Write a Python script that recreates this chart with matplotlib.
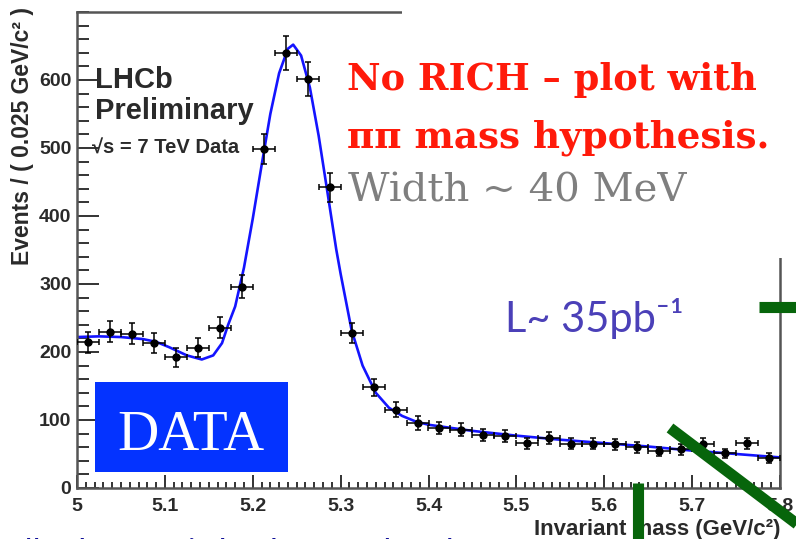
import matplotlib
matplotlib.use("Agg")
import matplotlib.pyplot as plt
from matplotlib.patches import Rectangle
from matplotlib.lines import Line2D

# binned data, bin width 0.025 GeV/c^2
mass = [5.0125, 5.0375, 5.0625, 5.0875, 5.1125, 5.1375, 5.1625, 5.1875,
        5.2125, 5.2375, 5.2625, 5.2875, 5.3125, 5.3375, 5.3625, 5.3875,
        5.4125, 5.4375, 5.4625, 5.4875, 5.5125, 5.5375, 5.5625, 5.5875,
        5.6125, 5.6375, 5.6625, 5.6875, 5.7125, 5.7375, 5.7625, 5.7875]
events = [214, 230, 227, 213, 192, 206, 236, 296,
          499, 640, 602, 442, 228, 148, 115, 96,
          88, 86, 78, 76, 66, 74, 65, 65,
          64, 60, 54, 57, 65, 51, 66, 44]
events_err = [15, 15, 15, 15, 14, 14, 15, 17,
              22, 25, 25, 21, 15, 12, 11, 10,
              9, 9, 9, 9, 8, 9, 8, 8,
              8, 8, 7, 8, 8, 7, 8, 7]
half_bin = 0.0125

# fitted curve
fit_mass = [5.000, 5.025, 5.050, 5.075, 5.090, 5.105, 5.125, 5.142, 5.155,
            5.165, 5.172, 5.180, 5.190, 5.200, 5.210, 5.220, 5.230, 5.240,
            5.246, 5.255, 5.265, 5.275, 5.285, 5.295, 5.300, 5.3125, 5.325,
            5.340, 5.355, 5.370, 5.385, 5.400, 5.450, 5.500, 5.550, 5.600,
            5.650, 5.700, 5.750, 5.800]
fit_events = [222, 223, 222, 219, 215, 207, 195, 189, 195,
              213, 240, 267, 324, 396, 474, 550, 610, 646,
              652, 636, 589, 518, 435, 351, 315, 232, 180,
              140, 118, 106, 98, 93, 84, 77, 71, 66,
              61, 55, 50, 45]

W, H = 796, 539
fig = plt.figure(figsize=(W / 100, H / 100), dpi=100)
ax = fig.add_axes([77 / W, 1 - 488 / H, (780 - 77) / W, (488 - 12) / H])

ax.plot(fit_mass, fit_events, color="#1414ff", lw=1.9, zorder=2)
ax.errorbar(mass, events, yerr=events_err, xerr=half_bin, fmt="o",
            color="black", ms=5, elinewidth=1.1, capsize=2, capthick=1.1,
            zorder=3)

ax.set_xlim(5.0, 5.8)
ax.set_ylim(0, 700)
ax.set_xticks([5.0, 5.1, 5.2, 5.3, 5.4, 5.5, 5.6, 5.7, 5.8])
ax.set_xticklabels(["5", "5.1", "5.2", "5.3", "5.4", "5.5", "5.6", "5.7", "5.8"])
ax.set_xticks([5.0 + 0.01 * i for i in range(81)], minor=True)
ax.set_yticks([0, 100, 200, 300, 400, 500, 600])
ax.set_yticks(list(range(0, 701, 20)), minor=True)

ax.tick_params(axis="both", which="both", direction="in", colors="#333333",
               width=1.4, top=False, right=False)
ax.tick_params(axis="y", which="major", length=16, pad=4)
ax.tick_params(axis="y", which="minor", length=8.5)
ax.tick_params(axis="x", which="major", length=9.5, pad=7)
ax.tick_params(axis="x", which="minor", length=4.5)
for lab in ax.get_xticklabels() + ax.get_yticklabels():
    lab.set_fontfamily("Liberation Sans")
    lab.set_fontweight("bold")
    lab.set_fontsize(14)
    lab.set_color("#2a2a2a")
for side in ["left", "bottom", "top", "right"]:
    ax.spines[side].set_color("#555555")
    ax.spines[side].set_linewidth(1.8)

def px(x, y):
    return x / W, 1 - y / H

# axis titles, ROOT style at the end of the axes
fig.text(*px(780, 535), "Invariant mass (GeV/c²)", ha="right", va="baseline",
         fontsize=16, fontweight="bold", family="Liberation Sans", color="#2a2a2a")
fig.text(*px(23, 7), "Events / ( 0.025 GeV/c² )", ha="center", va="top",
         rotation=90, fontsize=16.5, fontweight="bold", family="Liberation Sans",
         color="#2a2a2a")

# LHCb label
fig.text(*px(95, 88), "LHCb", fontsize=21, fontweight="bold",
         family="Liberation Sans", color="#2a2a2a")
fig.text(*px(95, 119), "Preliminary", fontsize=21, fontweight="bold",
         family="Liberation Sans", color="#2a2a2a")
fig.text(*px(92, 154), "√s = 7 TeV Data", fontsize=14.5, fontweight="bold",
         family=["Liberation Sans", "DejaVu Sans"], color="#2a2a2a")

# white overlay box from the slide
fig.add_artist(Rectangle(px(402, 258), (W - 402) / W, 258 / H,
                         transform=fig.transFigure, facecolor="white",
                         edgecolor="none", zorder=5))

fig.text(*px(347, 90), "No RICH – plot with", fontsize=26.5, fontweight="bold",
         family="DejaVu Serif", color="#ff1a0a", zorder=6)
fig.text(*px(347, 147), "ππ mass hypothesis.", fontsize=26.8, fontweight="bold",
         family="DejaVu Serif", color="#ff1a0a", zorder=6)
fig.text(*px(348, 202), "Width ~ 40 MeV", fontsize=29, family="DejaVu Serif",
         color="#7f7f7f", zorder=6)

fig.text(*px(505, 332), "L~ 35pb⁻¹", fontsize=30, family=["Lato", "DejaVu Sans"],
         color="#4b40b8", zorder=6)

# DATA box
fig.add_artist(Rectangle(px(95, 472), (288 - 95) / W, (472 - 382) / H,
                         transform=fig.transFigure, facecolor="#0433ff",
                         edgecolor="none", zorder=6))
fig.text(*px(191, 450), "DATA", ha="center", va="baseline", fontsize=41,
         family="Liberation Serif", color="white", zorder=7)

# green slide decorations
green = "#07650b"
for xs, ys in [((637.5, 637.5), (483, 545)),
               ((759, 800), (306.5, 306.5)),
               ((670, 830), (428, 549))]:
    fig.add_artist(Line2D([xs[0] / W, xs[1] / W], [1 - ys[0] / H, 1 - ys[1] / H],
                          transform=fig.transFigure, color=green, lw=8,
                          solid_capstyle="butt", zorder=8))

# caption at the bottom of the slide, cut off by the slide edge
fig.text(*px(8, 538.5), "ally the rest is background and pt", ha="left", va="top",
         fontsize=24, family="Lato", color="#101098", zorder=6)

fig.savefig("out.png", dpi=100)
